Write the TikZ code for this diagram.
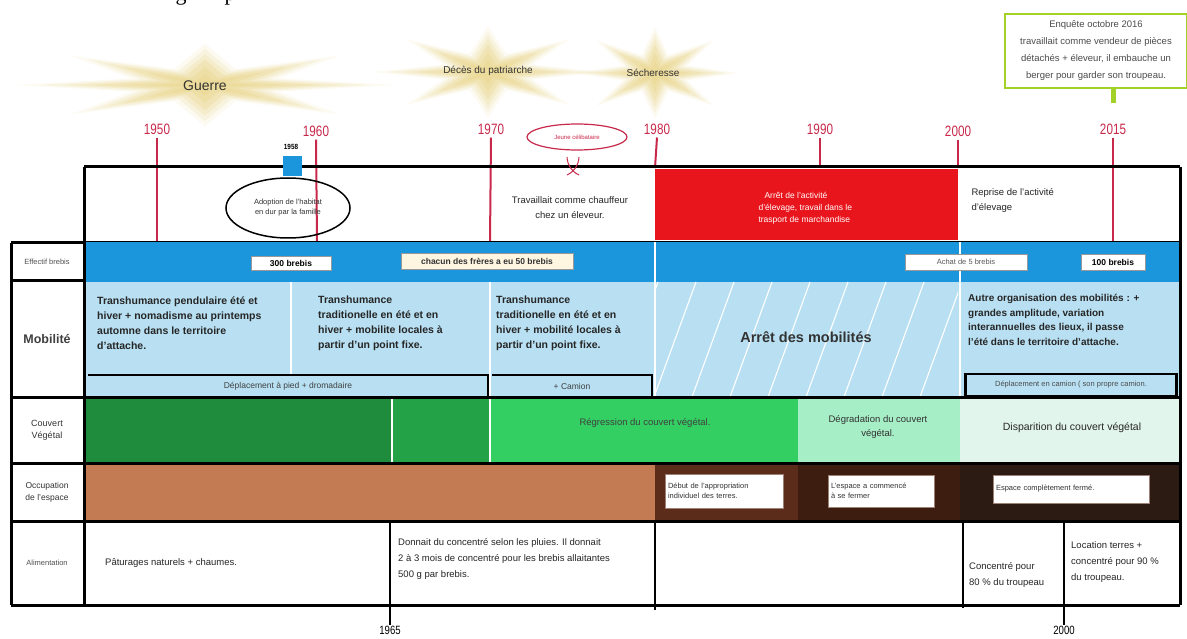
\documentclass[tikz,border=0pt]{standalone}
\usepackage{fontspec}
\setmainfont{Liberation Sans}
\newfontfamily\serifont{Liberation Serif}
\usetikzlibrary{calc,shapes.geometric}
\definecolor{yearred}{HTML}{C8284A}
\definecolor{bluerow}{HTML}{1B95DC}
\definecolor{lightblue}{HTML}{B8E0F2}
\definecolor{alertred}{HTML}{E8151C}
\definecolor{greenA}{HTML}{1E8C3C}
\definecolor{greenB}{HTML}{23A247}
\definecolor{greenC}{HTML}{33CF62}
\definecolor{greenD}{HTML}{A6EEC6}
\definecolor{greenE}{HTML}{E2F5EC}
\definecolor{brownA}{HTML}{C27B53}
\definecolor{brownB}{HTML}{5B2C1A}
\definecolor{brownC}{HTML}{3D1D10}
\definecolor{brownD}{HTML}{2B1B12}
\definecolor{starcol}{HTML}{E8D27E}
\definecolor{calloutgreen}{HTML}{A2D127}
\definecolor{labelgray}{HTML}{505050}
\definecolor{cream}{HTML}{FFF6E2}
\newcommand\fs[2]{\fontsize{#1}{#2}\selectfont}
\newcommand\fuzzystar[4]{%
  \foreach \s/\o in {1.15/0.10,1.0/0.16,0.85/0.2,0.7/0.24,0.5/0.28,0.3/0.3}{%
    \fill[starcol,opacity=\o] plot[samples at={0,...,15},variable=\k]
      ({#1+\s*#3*cos(\k*22.5)*(0.71+0.29*cos(\k*180))},{#2+\s*#4*sin(\k*22.5)*(0.71+0.29*cos(\k*180))}) -- cycle;
  }}
\tikzset{
  yr/.style={text=yearred,font=\fs{15}{15},inner sep=1pt},
  tick/.style={draw=yearred,line width=2pt},
  frame/.style={draw=black,line width=3pt},
  thin/.style={draw=black,line width=1.4pt},
  lab/.style={align=center,inner sep=1pt},
  mob/.style={anchor=west,align=left,font=\bfseries\fs{10.5}{15},text=black!85,inner sep=0pt},
  ebox/.style={draw=black!40,fill=white,line width=0.6pt,inner sep=1pt},
  obox/.style={draw=brownB!60,fill=white,line width=0.6pt,inner sep=2pt,align=left,font=\fs{7.5}{10},text=black!80},
  alim/.style={anchor=west,align=left,font=\fs{9.5}{16},text=black!85,inner sep=0pt},
}
\begin{document}
\begin{tikzpicture}[x=1pt,y=-1pt]
\useasboundingbox (0,0) rectangle (1187,639);
\fill[white] (0,0) rectangle (1187,639);
% fragment of text above
\begin{scope}
\clip (150,0) rectangle (260,10);
\node[anchor=base,font=\serifont\fs{22}{22},inner sep=0pt] (fragg) at (181,1) {g};
\node[anchor=base,font=\serifont\fs{22}{22},inner sep=0pt] (fragp) at (230,1) {p};
\end{scope}
% stars
\fuzzystar{205}{85}{165}{36}
\fuzzystar{488}{72}{100}{40}
\fuzzystar{655}{73}{72}{40}
\node[font=\fs{14}{14},text=black!80] (guerre) at (205,86) {Guerre};
\node[font=\fs{10}{10},text=black!80] (deces) at (488,71) {Décès du patriarche};
\node[font=\fs{10}{10},text=black!80] (secher) at (653,73) {Sécheresse};
% callout
\node[draw=calloutgreen,line width=2pt,fill=white,minimum width=182,minimum height=74,align=center,font=\fs{9.5}{17},text=black!70,inner sep=1pt] (callout) at (1096,51) {Enquête octobre 2016\\travaillait comme vendeur de pièces\\détachés + éleveur, il embauche un\\berger pour garder son troupeau.};
% years
\node[yr] (y1950) at (157,129) {\scalebox{0.78}[1]{1950}};
\node[yr] (y1960) at (316,131) {\scalebox{0.78}[1]{1960}};
\node[yr] (y1970) at (491,129) {\scalebox{0.78}[1]{1970}};
\node[yr] (y1980) at (657,129) {\scalebox{0.78}[1]{1980}};
\node[yr] (y1990) at (820,129) {\scalebox{0.78}[1]{1990}};
\node[yr] (y2000) at (958,131) {\scalebox{0.78}[1]{2000}};
\node[yr] (y2015) at (1113,129) {\scalebox{0.78}[1]{2015}};
\draw[calloutgreen,line width=5pt] (callout.south -| y2015) -- ++(0,14);
% row fills
\fill[alertred] (655,169) rectangle (958,240);
\fill[bluerow] (84,241) rectangle (1180,282);
\fill[lightblue] (84,282) rectangle (1180,397);
\begin{scope}
\clip (655,282) rectangle (958,397);
\foreach \xx in {540,578,...,1000} \draw[white,line width=1.1pt] (\xx,397) -- (\xx+42,282);
\end{scope}
\fill[greenA] (84,397) rectangle (392,463);
\fill[greenB] (392,397) rectangle (490,463);
\fill[greenC] (490,397) rectangle (798,463);
\fill[greenD] (798,397) rectangle (960,463);
\fill[greenE] (960,397) rectangle (1180,463);
\fill[brownA] (84,463) rectangle (655,521);
\fill[brownB] (655,463) rectangle (798,521);
\fill[brownC] (798,463) rectangle (960,521);
\fill[brownD] (960,463) rectangle (1180,521);
% white dividers
\draw[white,line width=1.5pt] (655,241) -- (655,397);
\draw[white,line width=1.5pt] (960,241) -- (960,397);
\draw[white,line width=1.5pt] (291,282) -- (291,375);
\draw[white,line width=1.5pt] (490,282) -- (490,463);
\draw[white,line width=1.5pt] (392,397) -- (392,463);
% ticks
\coordinate (t1950) at (157,241);
\coordinate (t1960) at (317,241);
\coordinate (t1970) at (490,241);
\coordinate (t1980) at (655,168);
\coordinate (t1990) at (820,168);
\coordinate (t2000) at (958,168);
\coordinate (t2015) at (1113,241);
\foreach \y in {1950,1960,1970,1980,1990,2000,2015} \draw[tick] ([yshift=-2pt]y\y.south) -- (t\y);
% mobility sub boxes
\fill[lightblue] (88,375) rectangle (488,397);
\draw[thin,line width=2.2pt] (88,375) -- (488,375) -- (488,397);
\draw[thin,line width=2.2pt] (492,375) -- (652,375) -- (652,397);
\node[font=\fs{8.5}{10},text=black!75] (depl1) at (288,386) {Déplacement à pied + dromadaire};
\node[font=\fs{8.5}{10},text=black!75] (depl2) at (572,386) {+ Camion};
\node[draw=black,line width=2.2pt,fill=lightblue,minimum width=211,minimum height=22,inner sep=0pt,font=\fs{7.5}{9},text=black!70] (depl3) at (1071,385) {Déplacement en camion ( son propre camion.};
% frame lines
\draw[thin,line width=0.8pt] (84,241) -- (1180,241);
\draw[frame] (84,167) -- (1180,167);
\draw[frame] (84,167) -- (84,605);
\draw[frame] (1180,167) -- (1180,605);
\draw[frame] (11,605) -- (1180,605);
\draw[frame] (11,243) -- (11,605);
\draw[frame] (11,243) -- (84,243);
\draw[frame] (11,281) -- (84,281);
\draw[frame] (11,397) -- (1180,397);
\draw[frame] (11,463) -- (1180,463);
\draw[frame] (11,521) -- (1180,521);
% alimentation dividers
\node[font=\fs{12}{12},inner sep=1pt] (b1965) at (390,630) {\scalebox{0.8}[1]{1965}};
\node[font=\fs{12}{12},inner sep=1pt] (b2000) at (1064,630) {\scalebox{0.8}[1]{2000}};
\coordinate (a655) at (655,610);
\coordinate (a963) at (963,608);
\draw[thin] (390,521) -- (b1965.north);
\draw[thin] (655,521) -- (a655);
\draw[thin] (963,521) -- (a963);
\draw[thin] (1064,521) -- (b2000.north);
% row labels
\node[lab,font=\fs{7.5}{9},text=labelgray] (lEff) at (47,262) {Effectif brebis};
\node[lab,font=\bfseries\fs{12.5}{14},text=black!75] (lMob) at (47,339) {Mobilité};
\node[lab,font=\fs{9}{12},text=black!80] (lCou) at (47,430) {Couvert\\Végétal};
\node[lab,font=\fs{8.5}{12},text=black!80] (lOcc) at (47,492) {Occupation\\de l'espace};
\node[lab,font=\fs{7.5}{9},text=labelgray] (lAli) at (47,563) {Alimentation};
% top row content
\node[fill=bluerow,minimum width=19,minimum height=20,inner sep=0pt] (sq1958) at (292,166) {};
\node[font=\bfseries\fs{7.5}{8},inner sep=0pt] (y1958) at (291,147) {\scalebox{0.85}[1]{1958}};
\node[draw=black,line width=1.5pt,ellipse,minimum width=124,minimum height=60,inner sep=0pt,align=center,font=\fs{7.5}{10},text=black!80] (habitat) at (288,208) {Adoption de l'habitat\\en dur par la famille};
\node[draw=yearred,line width=1.2pt,ellipse,minimum width=100,minimum height=26,inner sep=0pt,font=\fs{6}{7},text=yearred] (jeune) at (577,137) {Jeune célibataire};
\coordinate (xm) at (573,166);
\draw[yearred,line width=1pt] ([shift={(-6,-9)}]xm) to[bend right=30] ([shift={(6,9)}]xm);
\draw[yearred,line width=1pt] ([shift={(6,-9)}]xm) to[bend left=30] ([shift={(-6,9)}]xm);
\node[align=center,font=\fs{9.5}{15},text=black!85] (chauffeur) at (570,208) {Travaillait comme chauffeur\\chez un éleveur.};
\node[anchor=west,align=left,font=\fs{8.5}{12},text=white] (arret) at (755,208) {\hspace{6pt}Arrêt de l'activité\\d'élevage, travail dans le\\trasport de marchandise};
\node[anchor=west,align=left,font=\fs{9.5}{15},text=black!85] (reprise) at (968,200) {Reprise de l'activité\\d'élevage};
% effectif boxes
\node[ebox,minimum width=80,minimum height=14,font=\bfseries\fs{8.5}{9}] (e300) at (291,263) {300 brebis};
\node[ebox,fill=cream,minimum width=172,minimum height=16,font=\bfseries\fs{8.5}{9},text=black!80] (e50) at (487,261) {chacun des frères a eu 50 brebis};
\node[ebox,minimum width=122,minimum height=16,font=\fs{7.5}{9},text=black!65] (e5) at (966,262) {Achat de 5 brebis};
\node[ebox,minimum width=64,minimum height=16,font=\bfseries\fs{8.5}{9}] (e100) at (1113,262) {100 brebis};
% mobility texts
\node[mob] (m1) at (97,323) {Transhumance pendulaire été et\\hiver + nomadisme au printemps\\automne  dans le territoire\\d'attache.};
\node[mob] (m2) at (318,323) {Transhumance\\traditionelle en été et en\\hiver + mobilite locales à\\partir d'un point fixe.};
\node[mob] (m3) at (496,323) {Transhumance\\traditionelle en été et en\\hiver + mobilité locales à\\partir d'un point fixe.};
\node[font=\bfseries\fs{14.5}{16},text=black!80] (m4) at (806,337) {Arrêt des mobilités};
\node[mob,font=\bfseries\fs{10}{14.5}] (m5) at (968,320) {Autre organisation des mobilités : +\\grandes amplitude,  variation\\interannuelles des lieux, il passe\\l'été  dans le territoire d'attache.};
% couvert texts
\node[font=\fs{9.5}{12},text=black!75] (c1) at (645,423) {Régression du couvert végétal.};
\node[align=center,font=\fs{9.5}{14},text=black!80] (c2) at (878,427) {Dégradation du couvert\\végétal.};
\node[font=\fs{10.5}{12},text=black!85] (c3) at (1072,428) {Disparition du couvert végétal};
% occupation boxes
\node[obox,minimum width=118,minimum height=34,text width=112] (o1) at (724,491) {Début de l'appropriation\\individuel des terres.};
\node[obox,minimum width=106,minimum height=32,text width=100] (o2) at (881,491) {L'espace a commencé\\à se fermer};
\node[obox,minimum width=156,minimum height=28,text width=150] (o3) at (1071,489) {Espace complètement fermé.\\[5pt]};
% alimentation texts
\node[alim] (al1) at (105,563) {Pâturages naturels + chaumes.};
\node[alim] (al2) at (398,559) {Donnait  du concentré selon les pluies. Il donnait\\2 à 3 mois de concentré pour les brebis allaitantes\\500 g par brebis.};
\node[alim] (al3) at (969,575) {Concentré  pour\\80 \% du troupeau};
\node[alim] (al4) at (1071,562) {Location terres +\\concentré pour 90 \%\\du troupeau.};
\end{tikzpicture}
\end{document}
